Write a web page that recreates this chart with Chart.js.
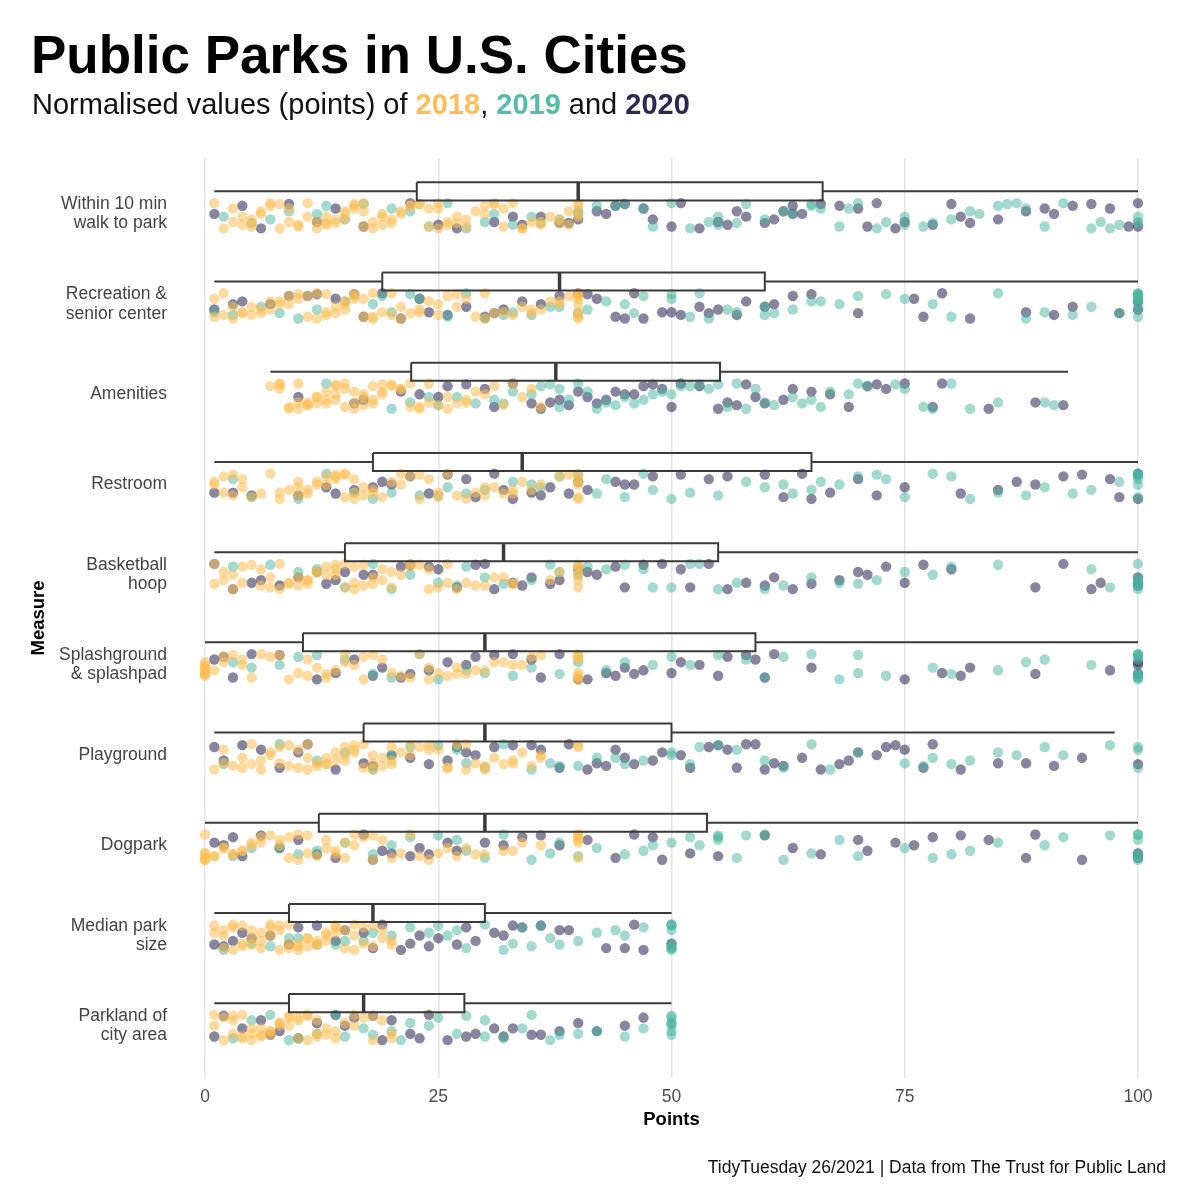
<!DOCTYPE html>
<html><head><meta charset="utf-8">
<script src="https://cdn.jsdelivr.net/npm/chart.js@4"></script>
<style>
html,body{margin:0;padding:0;background:#fff;}
#wrap{position:relative;width:1200px;height:1200px;font-family:"Liberation Sans",Arial,Helvetica,sans-serif;}
#c{position:absolute;left:0;top:0;}
.t{position:absolute;white-space:nowrap;line-height:1;}
</style></head><body>
<div id="wrap">
<canvas id="c" width="1200" height="1200"></canvas>
<div class="t" style="left:31px;top:28px;font-size:53px;font-weight:bold;color:#000;">Public Parks in U.S. Cities</div>
<div class="t" style="left:32px;top:90px;font-size:29px;color:#111;">Normalised values (points) of <b style="color:#FBBE5A">2018</b>, <b style="color:#56BBA9">2019</b> and <b style="color:#2C2850">2020</b></div>
<div class="t" style="right:34px;top:1159px;font-size:17.5px;color:#111;">TidyTuesday 26/2021 | Data from The Trust for Public Land</div>
</div>
<script>
// ---- data ----
const categories = ["Within 10 min\nwalk to park", "Recreation &\nsenior center", "Amenities", "Restroom", "Basketball\nhoop", "Splashground\n& splashpad", "Playground", "Dogpark", "Median park\nsize", "Parkland of\ncity area"];
const xTicks = [0, 25, 50, 75, 100];
const years = ["2018", "2019", "2020"];

const whiskerLow  = [1, 1, 7, 1, 1, 0, 1, 0, 1, 1];
const boxQ1       = [22.7, 19, 22.1, 18, 15, 10.5, 17, 12.2, 9, 9];
const boxMedian   = [40, 38, 37.6, 34, 32, 30, 30, 30, 18, 17];
const boxQ3       = [66.2, 60, 55.2, 65, 55, 59, 50, 53.8, 30, 27.8];
const whiskerHigh = [100, 100, 92.5, 100, 100, 100, 97.5, 100, 50, 50];

const pts2018 = [
  [1,2,3,4,4,5,5,6,6,7,8,9,10,11,12,12,13,13,14,14,15,15,16,16,16,17,17,18,18,19,19,20,20,21,21,22,23,24,24,25,25,26,26,27,27,28,29,30,30,31,32,32,33,34,35,36,37,38,38,39,40,40,40,3,5,7,8,9,10,11,13,15,17,19,22,23,25,28,31,34,36,39,40],
  [1,1,2,3,4,5,5,6,7,8,8,9,10,10,11,12,12,13,13,14,14,15,15,15,16,16,17,17,18,18,19,20,21,22,23,24,25,26,27,28,29,30,30,32,33,34,35,36,37,38,39,40,40,40,40,40,40,2,3,4,6,7,9,11,13,16,18,20,21,23,25,27,31,35,38,40,40],
  [7,8,8,9,10,10,11,11,12,12,13,13,14,14,14,15,15,15,16,16,17,17,18,18,19,19,20,20,21,22,22,23,24,25,26,27,28,29,30,31,33,35,36,8,9,10,11,12,13,14,16,17,18,19,21,23,24,26,28,32,34],
  [1,1,2,3,4,5,7,8,8,10,10,11,11,12,13,13,14,14,15,15,16,16,17,17,18,18,20,21,22,23,24,25,26,28,29,30,31,32,33,34,36,38,39,40,40,40,40,2,3,4,6,9,10,12,14,15,16,19,21,23,25,27,30,33,35,40,40],
  [1,2,2,3,4,5,6,7,8,8,9,10,10,11,11,12,13,13,14,14,15,15,16,16,17,18,18,19,20,21,22,23,24,25,26,27,28,30,32,33,37,38,40,40,40,40,40,1,3,4,6,7,9,11,12,14,16,17,19,20,22,24,26,29,31,33,40],
  [0,0,0,0,0,0,2,3,4,5,6,9,10,11,12,13,14,15,16,17,18,19,22,23,24,25,26,27,28,30,31,33,35,36,40,40,40,40,40,40,0,0,1,2,4,7,8,11,13,15,17,20,21,24,27,29,32,34,40,40],
  [1,2,3,4,5,6,7,7,8,9,10,10,11,11,12,12,13,13,14,14,15,15,16,16,17,17,18,18,19,19,20,20,21,22,23,24,25,26,27,28,29,30,31,32,33,34,36,40,40,2,4,5,6,8,9,11,13,15,16,18,20,22,24,26,28,30,33,35,36],
  [0,0,0,0,1,2,3,4,5,5,6,7,8,9,10,10,11,12,13,14,14,15,16,17,18,19,20,22,24,25,27,28,30,32,34,36,40,40,40,40,40,0,0,1,2,3,4,6,8,9,11,13,15,16,18,21,23,26,29,33,40],
  [1,2,2,3,3,4,4,5,5,6,6,7,7,8,8,9,9,10,10,11,11,12,12,13,13,14,14,15,15,16,16,17,18,19,20,20,1,2,3,4,5,6,7,8,9,10,11,12,13,14,16,17,18,19],
  [1,2,3,3,4,4,5,5,6,6,7,7,8,8,9,9,10,10,11,11,12,12,13,13,14,15,16,17,18,19,20,1,2,3,4,5,6,7,8,9,10,11,12,14,16,18,20]
];
const pts2019 = [
  [2,5,7,9,12,13,17,20,24,26,28,30,33,35,36,38,40,40,42,45,47,48,50,52,54,55,55,57,60,62,63,65,65,66,68,70,72,73,75,75,78,80,82,83,85,86,88,90,92,95,96,98,100,100,15,22,31,44,58,69,77,87,97,100],
  [1,3,6,8,12,15,18,19,22,23,26,28,30,33,35,38,40,41,43,45,47,50,50,52,53,54,57,60,60,61,63,65,68,70,73,75,80,85,88,90,93,95,98,100,100,100,100,100,100,100,100,10,20,32,37,46,56,66,78,100,100],
  [13,20,22,25,27,29,31,33,35,36,37,38,38,40,42,43,44,45,46,47,49,50,51,53,54,56,57,58,60,61,63,64,65,67,69,71,74,75,77,80,82,90,91,24,32,39,41,48,52,55,59,66,70,78,85],
  [3,5,13,18,20,23,26,28,30,33,35,38,40,43,45,47,50,52,55,60,63,65,66,68,70,72,73,75,78,82,85,88,90,93,95,98,100,100,100,100,100,100,10,16,25,36,42,48,58,62,80,100],
  [3,7,12,15,18,20,25,27,30,32,35,38,40,41,45,47,50,53,55,57,62,65,70,72,75,78,80,85,95,97,100,100,100,100,100,100,100,10,22,28,37,43,48,52,60,68,100],
  [3,8,10,12,15,20,23,25,30,33,35,38,43,45,48,50,55,58,60,65,68,70,73,78,80,85,88,95,100,100,100,100,100,100,100,100,5,18,28,40,52,62,70,90,100,100],
  [2,12,15,20,22,25,27,30,32,35,37,40,42,45,47,50,50,53,55,57,62,65,67,75,77,78,80,82,85,87,90,97,100,100,8,18,28,38,44,52,60,70,92,100],
  [3,8,10,12,15,20,22,25,27,30,32,35,37,40,42,45,47,50,53,55,55,55,57,60,62,65,70,75,80,82,85,90,92,97,100,100,100,100,100,100,5,18,28,38,48,52,58,68,78,100],
  [2,5,7,9,12,15,18,20,22,25,27,28,30,32,33,35,37,38,40,42,45,47,50,50,50,50,50,50,50,10,14,17,24,26,34,36,44,50,50],
  [3,7,9,12,15,17,18,20,22,24,25,28,30,32,35,37,40,45,47,50,50,50,50,50,50,5,10,14,21,27,30,34,38,42,50]
];
const pts2020 = [
  [1,4,9,14,17,22,27,31,34,36,39,40,42,43,44,45,47,50,51,53,55,56,58,60,61,62,63,63,66,70,71,72,74,75,78,81,82,85,88,91,93,95,97,99,100,6,12,25,33,38,48,57,64,68,80,90,100],
  [1,4,7,11,12,14,17,19,21,24,26,28,31,32,34,36,38,41,42,44,46,47,50,51,53,54,55,58,61,63,65,76,77,79,82,88,91,93,98,100,100,3,9,16,23,30,40,45,49,57,60,70],
  [10,16,17,21,23,26,28,30,31,33,36,37,39,41,42,43,44,46,47,48,49,50,51,55,56,57,59,60,62,65,67,71,72,73,78,79,84,89,92,25,35,38,40,45,53,58,63,69,75],
  [1,5,13,14,16,19,20,22,26,28,29,31,33,35,36,37,39,41,44,45,48,51,54,62,64,65,67,72,75,81,85,87,89,92,94,97,98,100,100,3,10,18,24,32,40,46,56,60,70],
  [1,3,5,8,10,13,14,15,18,21,22,25,27,30,31,33,34,35,37,38,41,42,44,47,51,52,54,56,58,60,61,65,68,70,71,73,77,80,89,92,95,96,100,100,100,6,12,17,24,29,40,45,49,63,75],
  [1,3,5,12,14,18,19,22,24,26,28,29,31,35,36,38,41,43,44,45,46,47,51,53,56,58,59,60,61,75,79,81,82,89,97,100,100,2,8,16,21,33,40,50,55,65,100],
  [1,4,6,8,11,14,17,18,22,24,26,28,29,31,33,36,38,39,41,42,43,45,46,48,49,51,54,55,56,57,58,60,61,62,64,68,69,70,72,73,74,75,77,78,81,85,91,94,100,2,10,20,27,35,44,52,59,66,88],
  [1,2,3,6,10,14,17,18,20,22,23,24,27,30,32,34,36,41,44,46,49,52,55,63,66,71,74,76,78,81,84,88,89,94,100,4,8,12,19,26,38,48,60,70,100],
  [1,3,4,7,10,12,15,18,19,21,22,24,25,27,29,31,32,34,36,39,43,46,47,50,2,5,9,14,17,23,28,33,38,45],
  [1,4,7,8,12,15,16,18,20,23,24,26,29,32,33,36,38,40,45,47,2,6,10,14,19,22,28,31,35,42]
];

// ---- presentation ----
const yearColors = ["rgba(252,190,82,0.55)", "rgba(74,180,160,0.5)", "rgba(40,33,78,0.55)"];
const JIT = [-0.14, -0.02, 0.10, -0.08, 0.04, 0.14, -0.11, 0.01, 0.12, -0.05, 0.07, -0.13, 0.08];
const BOX_OFF = -0.25, BOX_H = 0.1, PT_OFF = 0.02;
const FONT = '"Liberation Sans", Arial, Helvetica, sans-serif';

function jitterPts(vals, i, k) {
  return vals.map((v, j) => ({ x: v, y: i + PT_OFF + JIT[(j * 5 + i * 3 + k * 7) % JIT.length] }));
}
const allPts = [pts2018, pts2019, pts2020];
const pointSets = years.map((yr, k) => ({
  label: yr,
  data: categories.flatMap((_, i) => jitterPts(allPts[k][i], i, k)),
  backgroundColor: yearColors[k],
  borderWidth: 0,
  pointRadius: 5.2,
  pointHoverRadius: 5.2,
  clip: false,
  order: 5 + k
}));

const GAP = { x: null, y: null };
const whiskerData = categories.flatMap((_, i) => {
  const c = i + BOX_OFF;
  return [{ x: whiskerLow[i], y: c }, { x: boxQ1[i], y: c }, GAP, { x: boxQ3[i], y: c }, { x: whiskerHigh[i], y: c }, GAP];
});
const boxData = categories.flatMap((_, i) => {
  const t = i + BOX_OFF - BOX_H, b = i + BOX_OFF + BOX_H;
  return [{ x: boxQ1[i], y: t }, { x: boxQ3[i], y: t }, { x: boxQ3[i], y: b }, { x: boxQ1[i], y: b }, { x: boxQ1[i], y: t }, GAP];
});
const medianData = categories.flatMap((_, i) => {
  return [{ x: boxMedian[i], y: i + BOX_OFF - BOX_H }, { x: boxMedian[i], y: i + BOX_OFF + BOX_H }, GAP];
});
const lineDs = (data, w, order) => ({
  data, showLine: true, spanGaps: false, pointRadius: 0, pointHoverRadius: 0,
  borderColor: '#3a3a3a', borderWidth: w, borderJoinStyle: 'miter', borderCapStyle: 'butt',
  backgroundColor: 'transparent', fill: false, tension: 0, clip: false, order
});

new Chart(document.getElementById('c'), {
  type: 'scatter',
  data: { datasets: [lineDs(medianData, 3.5, 0), lineDs(boxData, 2, 1), lineDs(whiskerData, 2, 2), ...pointSets] },
  options: {
    responsive: false,
    animation: false,
    events: [],
    layout: { autoPadding: false, padding: { left: 22, right: 62, top: 158, bottom: 62 } },
    plugins: { legend: { display: false }, tooltip: { enabled: false }, title: { display: false } },
    scales: {
      x: {
        type: 'linear', min: 0, max: 100,
        afterBuildTicks: s => { s.ticks = xTicks.map(v => ({ value: v })); },
        afterFit: s => { s.height = 60; },
        grid: { color: '#e3e3e3', lineWidth: 1.5, drawTicks: false },
        border: { display: false },
        ticks: { padding: 8.5, color: '#4d4d4d', font: { family: FONT, size: 17.5 } },
        title: { display: true, text: 'Points', color: '#000', padding: { top: 0, bottom: 7 }, font: { family: FONT, size: 18.5, weight: 'bold' } }
      },
      y: {
        type: 'linear', min: -0.62, max: 9.58, reverse: true,
        afterBuildTicks: s => { s.ticks = categories.map((_, i) => ({ value: i })); },
        afterFit: s => { s.width = 183; },
        grid: { display: false, drawTicks: false },
        border: { display: false },
        ticks: {
          padding: 38, color: '#444', font: { family: FONT, size: 17.5, lineHeight: 1.1 },
          callback: v => { const c = categories[Math.round(v)]; return c ? c.split('\n') : ''; }
        },
        title: { display: true, text: 'Measure', color: '#000', padding: { top: 6, bottom: 0 }, font: { family: FONT, size: 18.5, weight: 'bold' } }
      }
    }
  }
});
</script>
</body></html>
